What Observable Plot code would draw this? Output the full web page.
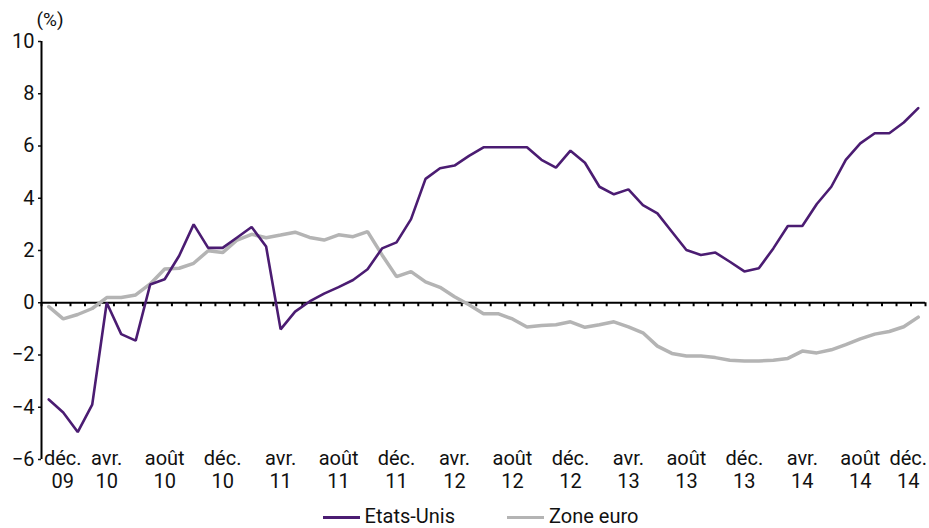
<!DOCTYPE html>
<html>
<head>
<meta charset="utf-8">
<script src="https://cdn.jsdelivr.net/npm/d3@7"></script>
<script src="https://cdn.jsdelivr.net/npm/@observablehq/plot@0.6"></script>
<style>
  html, body { margin: 0; padding: 0; background: #fff; }
  #chart { width: 929px; }
  .legend { display: flex; justify-content: center; align-items: center; gap: 52px; height: 25px; padding-left: 32px; font-family: Roboto, sans-serif; font-size: 20px; color: #111; }
  .legend .item { display: flex; align-items: center; gap: 5px; }
  .legend .sw { width: 37px; height: 3px; display: inline-block; margin-top: 3px; }
</style>
</head>
<body>
<div id="chart"></div>
<div class="legend">
  <span class="item"><span class="sw" style="background:#4b1c72"></span>Etats-Unis</span>
  <span class="item"><span class="sw" style="background:#b4b4b4"></span>Zone euro</span>
</div>
<script>
// Monthly series, déc. 2009 -> déc. 2014 (61 months)
const seriesNames = ["Etats-Unis", "Zone euro"];
const seriesColors = ["#4b1c72", "#b4b4b4"];

const etatsUnis = [
  -3.7, -4.2, -4.95, -3.9, 0.0, -1.2, -1.45, 0.7, 0.9, 1.8,
  3.0, 2.1, 2.1, 2.5, 2.9, 2.15, -1.02, -0.34, 0.05, 0.35,
  0.6, 0.87, 1.28, 2.08, 2.31, 3.2, 4.74, 5.15, 5.25, 5.62,
  5.95, 5.95, 5.95, 5.95, 5.47, 5.17, 5.82, 5.36, 4.44, 4.15,
  4.34, 3.74, 3.42, 2.72, 2.02, 1.83, 1.92, 1.57, 1.2, 1.32,
  2.08, 2.94, 2.94, 3.78, 4.44, 5.47, 6.1, 6.49, 6.49, 6.9,
  7.45
];

const zoneEuro = [
  -0.15, -0.62, -0.45, -0.22, 0.2, 0.2, 0.3, 0.72, 1.29, 1.32,
  1.51, 1.99, 1.92, 2.4, 2.62, 2.49, 2.59, 2.7, 2.5, 2.4,
  2.6, 2.53, 2.72, 1.83, 1.0, 1.19, 0.8, 0.59, 0.23, -0.08,
  -0.42, -0.42, -0.62, -0.93, -0.87, -0.84, -0.73, -0.94, -0.84, -0.73,
  -0.92, -1.15, -1.66, -1.94, -2.04, -2.04, -2.1, -2.2, -2.23, -2.23,
  -2.2, -2.13, -1.85, -1.92, -1.8, -1.6, -1.38, -1.2, -1.1, -0.92,
  -0.55
];

// x tick labels (every 4 months, starting at index 0)
const tickLabels = [
  "déc.\n09", "avr.\n10", "août\n10", "déc.\n10", "avr.\n11", "août\n11",
  "déc.\n11", "avr.\n12", "août\n12", "déc.\n12", "avr.\n13", "août\n13",
  "déc.\n13", "avr.\n14", "août\n14", "déc.\n14"
];
const yTicks = [-6, -4, -2, 0, 2, 4, 6, 8, 10];

const n = etatsUnis.length;
const data = [
  ...etatsUnis.map((v, i) => ({i, v, s: seriesNames[0]})),
  ...zoneEuro.map((v, i) => ({i, v, s: seriesNames[1]}))
];
const labelData = tickLabels.map((t, k) => ({i: k * 4, t}));
const firstLabel = labelData.slice(0, 1);
const midLabels = labelData.slice(1, -1);
const lastLabel = labelData.slice(-1);
const monthBounds = d3.range(n + 1).map(i => i - 0.5);

const labelOpts = {x: "i", text: "t", frameAnchor: "bottom", lineAnchor: "top", dy: -11, lineHeight: 1.15, fontSize: 20, fill: "#111"};

const chart = Plot.plot({
  width: 929,
  height: 503,
  marginLeft: 41,
  marginRight: 4,
  marginTop: 41,
  marginBottom: 44,
  style: {fontFamily: "Roboto, sans-serif", fontSize: "20px", color: "#111", background: "#fff"},
  x: {domain: [-0.5, n - 0.5], axis: null},
  y: {domain: [-6, 10]},
  color: {domain: seriesNames, range: seriesColors},
  marks: [
    Plot.axisY({ticks: yTicks, tickSize: 3, tickPadding: 4, fontSize: 20, strokeWidth: 1.5, label: null}),
    Plot.ruleX([-0.5], {stroke: "#000", strokeWidth: 2}),
    Plot.ruleY([0], {stroke: "#000", strokeWidth: 2}),
    Plot.ruleX(monthBounds, {x: d => d, y1: 0, y2: 0, insetBottom: -4, stroke: "#000", strokeWidth: 2}),
    Plot.line(data.filter(d => d.s === seriesNames[1]), {x: "i", y: "v", stroke: "s", strokeWidth: 3.5, strokeLinejoin: "miter"}),
    Plot.line(data.filter(d => d.s === seriesNames[0]), {x: "i", y: "v", stroke: "s", strokeWidth: 2.6, strokeLinejoin: "miter"}),
    Plot.text(firstLabel, {...labelOpts, dx: 14}),
    Plot.text(midLabels, labelOpts),
    Plot.text(lastLabel, {...labelOpts, dx: -10}),
    Plot.text(["(%)"], {frameAnchor: "top-left", textAnchor: "start", lineAnchor: "bottom", dx: -5, dy: -16, fontSize: 19, fill: "#111"})
  ]
});
document.getElementById("chart").appendChild(chart);
</script>
</body>
</html>
